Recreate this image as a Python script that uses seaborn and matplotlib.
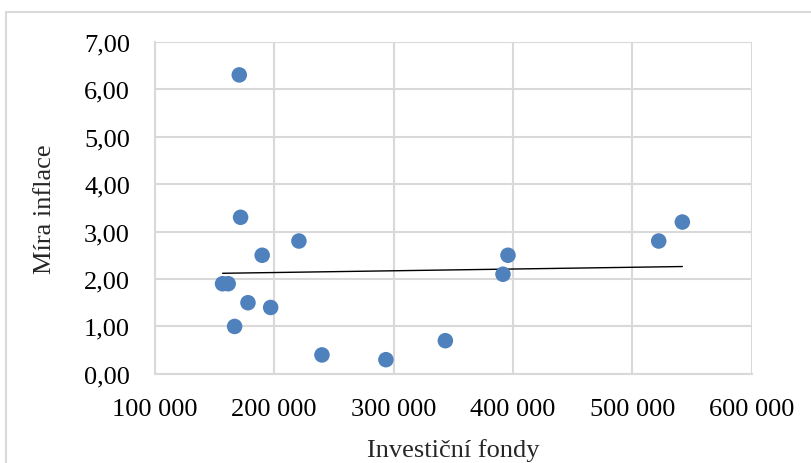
import numpy as np
import pandas as pd
import matplotlib
matplotlib.use("Agg")
import matplotlib.pyplot as plt
from matplotlib.ticker import FuncFormatter
from matplotlib.lines import Line2D
import seaborn as sns

# Objem investičních fondů vs. míra inflace
investicni_fondy = [170700, 171800, 220700, 189900, 156700, 161400, 178000, 197000,
                    166800, 240000, 293600, 343400, 391700, 395900, 522200, 542000]
mira_inflace = [6.3, 3.3, 2.8, 2.5, 1.9, 1.9, 1.5, 1.4,
                1.0, 0.4, 0.3, 0.7, 2.1, 2.5, 2.8, 3.2]

x_ticks = [100000, 200000, 300000, 400000, 500000, 600000]
y_ticks = [0, 1, 2, 3, 4, 5, 6, 7]

df = pd.DataFrame({"Investiční fondy": investicni_fondy, "Míra inflace": mira_inflace})

sns.set_theme(style="white")
plt.rcParams["font.family"] = ["Liberation Serif", "DejaVu Serif"]

fig = plt.figure(figsize=(8.11, 4.64), dpi=100)
ax = fig.add_axes([0.191, 0.192, 0.7357, 0.716])

grid_c = "#d9d9d9"
sns.scatterplot(data=df, x="Investiční fondy", y="Míra inflace", ax=ax,
                color="#4f81bd", s=125, edgecolor="none", zorder=3)

# lineární trend
k, q = np.polyfit(df["Investiční fondy"], df["Míra inflace"], 1)
xs = np.array([df["Investiční fondy"].min(), df["Investiční fondy"].max()])
ax.plot(xs, k * xs + q, color="black", lw=1.0, zorder=2)

ax.set_xlim(x_ticks[0], x_ticks[-1])
ax.set_ylim(y_ticks[0], y_ticks[-1])
ax.set_xticks(x_ticks)
ax.set_yticks(y_ticks)
ax.xaxis.set_major_formatter(FuncFormatter(lambda v, p: f"{int(v):,}".replace(",", " ")))
ax.yaxis.set_major_formatter(FuncFormatter(lambda v, p: f"{v:.2f}".replace(".", ",")))
ax.grid(True, color=grid_c, lw=1.5)
ax.set_axisbelow(True)
for s in ["top", "right"]:
    ax.spines[s].set_visible(False)
for s in ["left", "bottom"]:
    ax.spines[s].set_color(grid_c)
    ax.spines[s].set_linewidth(1.5)
ax.tick_params(axis="x", length=0, pad=17, labelsize=19, colors="black")
ax.tick_params(axis="y", length=0, pad=18, labelsize=19, colors="black")

ax.set_xlabel("Investiční fondy", fontsize=19, labelpad=13)
ax.set_ylabel("Míra inflace", fontsize=19, labelpad=20)

# rámeček grafu
fig.add_artist(Line2D([6 / 811, 6 / 811], [0, 1 - 12.5 / 464], color=grid_c, lw=1.5,
                      transform=fig.transFigure))
fig.add_artist(Line2D([6 / 811, 1], [1 - 12.5 / 464, 1 - 12.5 / 464], color=grid_c, lw=1.5,
                      transform=fig.transFigure))

fig.savefig("out.png", dpi=100)
